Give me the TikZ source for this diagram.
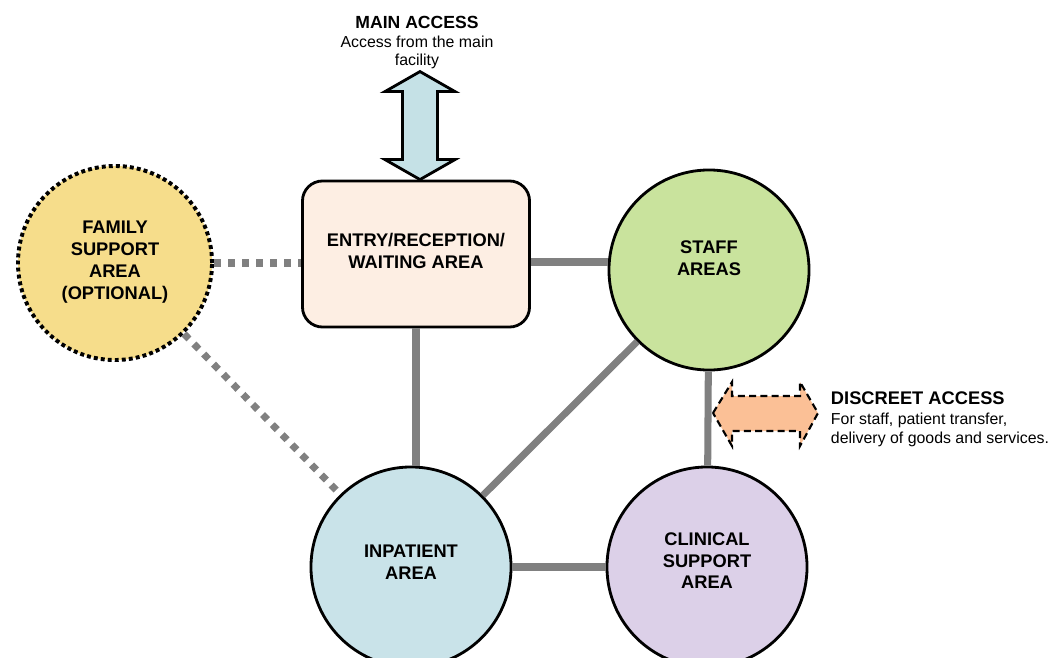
\documentclass[tikz,border=0pt]{standalone}
\usepackage{fontspec}
\setmainfont{Liberation Sans}
\usepackage{tikz}
\usetikzlibrary{positioning}
\definecolor{famyellow}{RGB}{246,221,139}
\definecolor{entrypeach}{RGB}{253,238,227}
\definecolor{staffgreen}{RGB}{201,227,157}
\definecolor{inpblue}{RGB}{201,227,233}
\definecolor{clinpurple}{RGB}{220,208,232}
\definecolor{mainblue}{RGB}{197,225,230}
\definecolor{discpeach}{RGB}{251,192,150}
\definecolor{linkgray}{RGB}{128,128,128}
\newcommand{\areatext}[2][0pt]{\raisebox{#1}[0pt][0pt]{\begin{tabular}{@{}c@{}}#2\end{tabular}}}

\begin{document}
\begin{tikzpicture}[x=0.025cm, y=-0.025cm,
    area/.style={draw, line width=2pt, circle, minimum size=5cm, inner sep=0pt, align=center, font=\fontsize{13}{15.5}\selectfont\bfseries},
    link/.style={line width=5pt, draw=linkgray},
    optlink/.style={link, dash pattern=on 5pt off 5pt},
    accessarrow/.style={line width=2pt, line join=miter}
]
\useasboundingbox (0,0) rectangle (1051,657);

% areas
\node[area, fill=famyellow, minimum size=4.85cm, line width=2.8pt, dash pattern=on 2.8pt off 2.2pt] (family) at (115,263) {\areatext[-2.5pt]{FAMILY\\SUPPORT\\AREA\\(OPTIONAL)}};
\node[draw, line width=2pt, rounded corners=0.5cm, fill=entrypeach, minimum width=5.675cm, minimum height=3.65cm, align=center, font=\fontsize{13}{15.5}\selectfont\bfseries] (entry) at (416,254) {\areatext[-2.5pt]{ENTRY/RECEPTION/\\WAITING AREA}};
\node[area, fill=staffgreen] (staff) at (709,270) {\areatext[4pt]{STAFF\\AREAS}};
\node[area, fill=inpblue] (inpatient) at (411,567) {\areatext[-1pt]{INPATIENT\\AREA}};
\node[area, fill=clinpurple] (clinical) at (707,567) {\areatext[0pt]{CLINICAL\\SUPPORT\\AREA}};

% links
\draw[optlink] (family) -- (family -| entry.west);
\draw[optlink] (family) -- (inpatient);
\draw[link] ([yshift=-0.2cm]entry.east) -- ([yshift=-0.2cm]entry.east -| staff.west);
\draw[link] (entry.south) -- (entry.south |- inpatient.north);
\draw[link] (staff) -- (inpatient);
\draw[link] (staff) -- (clinical);
\draw[link] (inpatient) -- (clinical);

% main access
\draw[accessarrow, fill=mainblue] ([xshift=0.1cm]entry.north) -- ++(-35,-20) -- ++(17.5,0) -- ++(0,-68) -- ++(-17.5,0) -- ++(35,-20) -- ++(35,20) -- ++(-17.5,0) -- ++(0,68) -- ++(17.5,0) -- cycle;
\node[font=\fontsize{12.5}{15}\selectfont\bfseries] (mainlbl) at (417,22) {MAIN ACCESS};
\node[font=\fontsize{11.3}{12.8}\selectfont, align=center] (maintxt) at (417,52) {Access from the main\\facility};

% discreet access
\draw[accessarrow, line width=1.5pt, dash pattern=on 5pt off 3pt, fill=discpeach] (713,413) -- (732,382) -- (732,396) -- (800,396) -- (800,382) -- (818,413) -- (800,446) -- (800,431) -- (732,431) -- (732,446) -- cycle;
\node[anchor=west, font=\fontsize{13}{15.5}\selectfont\bfseries] (disclbl) at (826,398) {DISCREET ACCESS};
\node[anchor=north west, align=left, font=\fontsize{11.3}{13.5}\selectfont] (disctxt) at (826,408) {For staff, patient transfer,\\delivery of goods and services.};
\end{tikzpicture}
\end{document}
